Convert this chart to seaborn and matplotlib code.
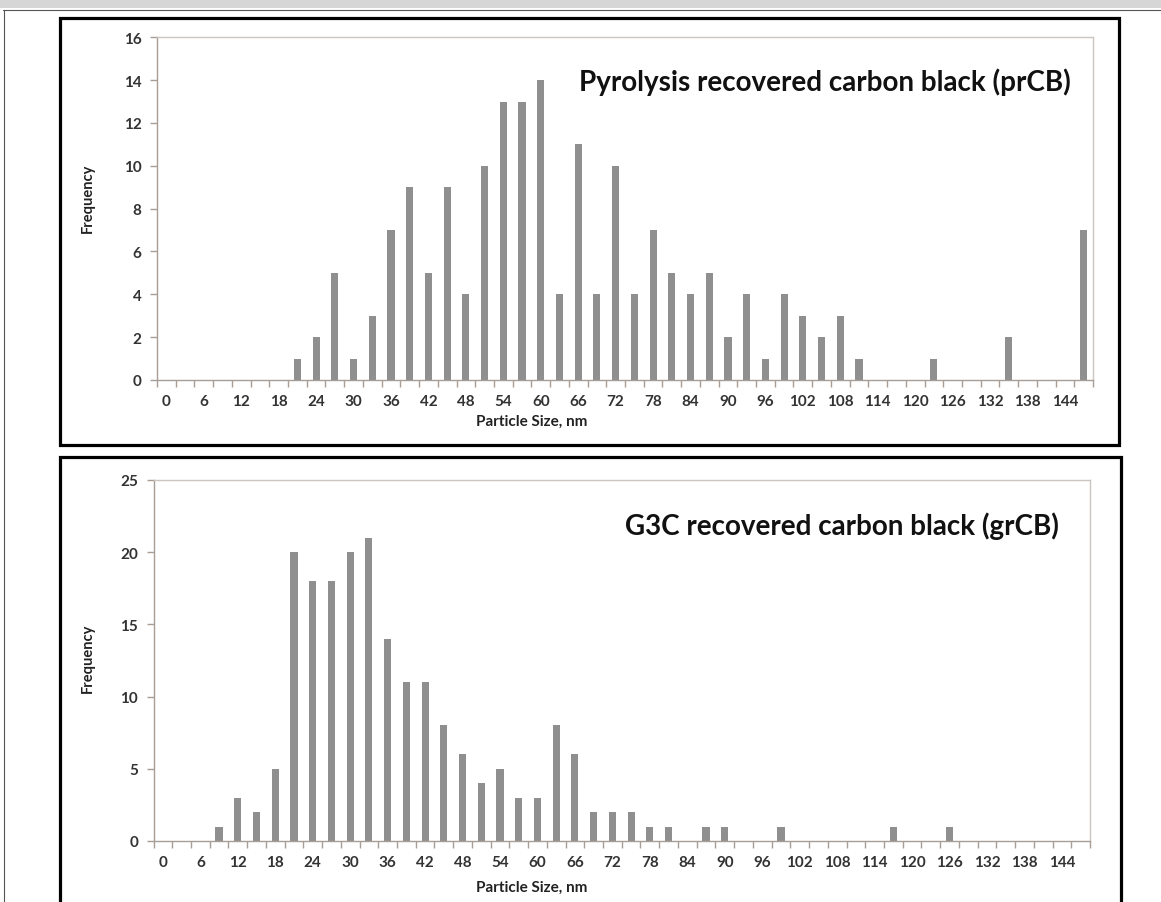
import matplotlib
matplotlib.use("Agg")
import matplotlib.pyplot as plt
from matplotlib.patches import Rectangle
from matplotlib.lines import Line2D
import seaborn as sns
import pandas as pd

# ---------------- data ----------------
sizes = [0, 3, 6, 9, 12, 15, 18, 21, 24, 27, 30, 33, 36, 39, 42, 45, 48, 51, 54, 57,
         60, 63, 66, 69, 72, 75, 78, 81, 84, 87, 90, 93, 96, 99, 102, 105, 108, 111, 114, 117,
         120, 123, 126, 129, 132, 135, 138, 141, 144, 147]
prcb_freq = [0, 0, 0, 0, 0, 0, 0, 1, 2, 5, 1, 3, 7, 9, 5, 9, 4, 10, 13, 13,
             14, 4, 11, 4, 10, 4, 7, 5, 4, 5, 2, 4, 1, 4, 3, 2, 3, 1, 0, 0,
             0, 1, 0, 0, 0, 2, 0, 0, 0, 7]
grcb_freq = [0, 0, 0, 1, 3, 2, 5, 20, 18, 18, 20, 21, 14, 11, 11, 8, 6, 4, 5, 3,
             3, 8, 6, 2, 2, 2, 1, 1, 0, 1, 1, 0, 0, 1, 0, 0, 0, 0, 0, 1,
             0, 0, 1, 0, 0, 0, 0, 0, 0, 0]
tick_labels = ["0", "6", "12", "18", "24", "30", "36", "42", "48", "54", "60", "66", "72",
               "78", "84", "90", "96", "102", "108", "114", "120", "126", "132", "138", "144"]
top_title = "Pyrolysis recovered carbon black (prCB)"
bottom_title = "G3C recovered carbon black (grCB)"
x_label = "Particle Size, nm"
y_label = "Frequency"

# ---------------- style ----------------
sns.set_theme(style="white")
plt.rcParams["font.family"] = ["Lato", "DejaVu Sans"]

W, H = 1161, 903
fig = plt.figure(figsize=(W / 100, H / 100), dpi=100)
fig.patch.set_facecolor("white")

BAR = "#8f8f8f"
AXC = "#a89e96"
TXT = "#333333"


def fx(px):
    return px / W


def fy(py):
    return 1 - py / H


def make_panel(rect, freq, ymax, ystep, title, title_xy, xlabel_xy, ylabel_xy):
    ax = fig.add_axes(rect)
    df = pd.DataFrame({"size": sizes, "freq": freq})
    sns.barplot(data=df, x="size", y="freq", order=sizes, color=BAR,
                width=0.38, saturation=1, ax=ax, edgecolor="none")
    ax.set_xlim(-0.5, len(sizes) - 0.5)
    ax.set_ylim(0, ymax)
    ax.set_yticks(range(0, ymax + 1, ystep))
    ax.set_xticks(range(0, len(sizes), 2))
    ax.set_xticklabels(tick_labels)
    ax.set_xticks([i - 0.5 for i in range(len(sizes) + 1)], minor=True)
    ax.tick_params(axis="x", which="major", length=0, pad=10,
                   labelsize=11, labelcolor=TXT)
    ax.tick_params(axis="x", which="minor", length=5, width=1, color=AXC,
                   direction="out", bottom=True)
    ax.tick_params(axis="y", which="major", length=5, width=1, color=AXC,
                   direction="out", left=True, pad=6, labelsize=11, labelcolor=TXT)
    for lab in ax.get_xticklabels() + ax.get_yticklabels():
        lab.set_fontweight("bold")
    for s in ax.spines.values():
        s.set_visible(True)
        s.set_color("#cdc6c0")
        s.set_linewidth(1)
    ax.spines["left"].set_color(AXC)
    ax.spines["bottom"].set_color(AXC)
    ax.set_xlabel("")
    ax.set_ylabel("")
    ax.grid(False)
    fig.text(fx(title_xy[0]), fy(title_xy[1]), title, ha="right", va="center",
             fontsize=20, fontweight="bold", color="#111111")
    fig.text(fx(xlabel_xy[0]), fy(xlabel_xy[1]), x_label, ha="center", va="center",
             fontsize=11, fontweight="bold", color="#222222")
    fig.text(fx(ylabel_xy[0]), fy(ylabel_xy[1]), y_label, ha="center", va="center",
             rotation=90, fontsize=10.5, fontweight="bold", color="#222222")
    return ax


make_panel([fx(157), fy(381), fx(1093) - fx(157), fy(38.3) - fy(381)],
           prcb_freq, 16, 2, top_title, (1071, 82), (532, 422), (88, 198))
make_panel([fx(153.5), fy(842), fx(1090) - fx(153.5), fy(481) - fy(842)],
           grcb_freq, 25, 5, bottom_title, (1059, 526), (532, 888), (88, 658))

# ---------------- page decorations ----------------
fig.patches.append(Rectangle((0, fy(9)), 1, 1 - fy(9), transform=fig.transFigure,
                             facecolor="#d6d6d6", edgecolor="none", zorder=0))
fig.lines.append(Line2D([fx(3), 1], [fy(10.5), fy(10.5)], transform=fig.transFigure,
                        color="#555555", lw=0.8))
fig.lines.append(Line2D([fx(3.5), fx(3.5)], [fy(10.5), 0], transform=fig.transFigure,
                        color="#555555", lw=0.8))
fig.patches.append(Rectangle((fx(60), fy(446)), fx(1119) - fx(60), fy(19) - fy(446),
                             transform=fig.transFigure, facecolor="none",
                             edgecolor="black", lw=2.3, zorder=5))
fig.patches.append(Rectangle((fx(60), fy(910)), fx(1121) - fx(60), fy(458) - fy(910),
                             transform=fig.transFigure, facecolor="none",
                             edgecolor="black", lw=2.3, zorder=5))

fig.savefig("out.png", dpi=100)
